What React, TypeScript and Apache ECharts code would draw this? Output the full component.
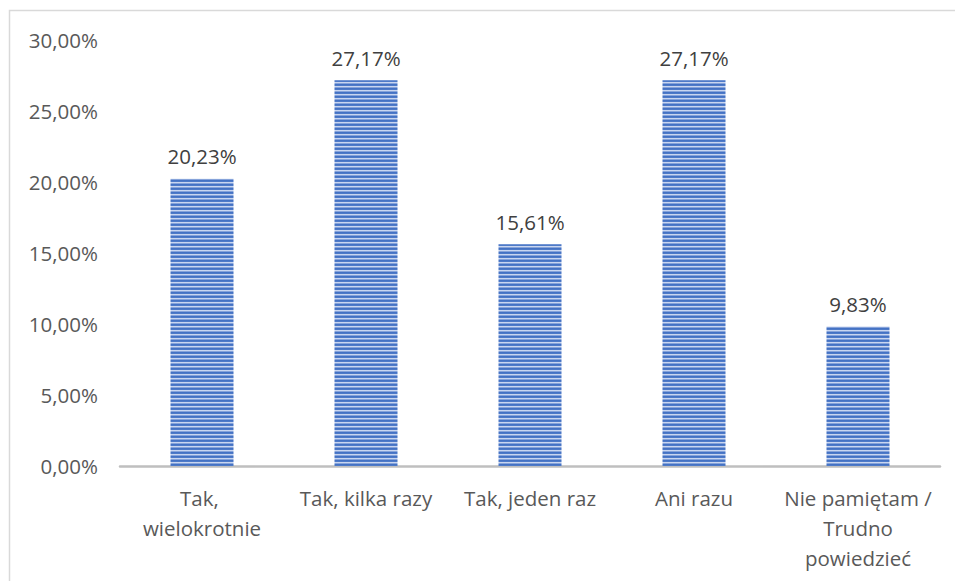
import React, { useEffect, useRef } from "react";
import * as echarts from "echarts";

const categories = [
  "Tak, wielokrotnie",
  "Tak, kilka razy",
  "Tak, jeden raz",
  "Ani razu",
  "Nie pamiętam / Trudno powiedzieć",
];
const values = [20.23, 27.17, 15.61, 27.17, 9.83];
const yMin = 0;
const yMax = 30;
const yStep = 5;

const fmt = (v: number) => v.toFixed(2).replace(".", ",") + "%";

function makeStripe(): HTMLCanvasElement {
  const c = document.createElement("canvas");
  c.width = 4;
  c.height = 4;
  const ctx = c.getContext("2d")!;
  const rows = ["#4472c4", "#4e7ac8", "#c9d6f0", "#86a3da"];
  rows.forEach((col, i) => {
    ctx.fillStyle = col;
    ctx.fillRect(0, i, 4, 1);
  });
  return c;
}

export default function App() {
  const ref = useRef<HTMLDivElement>(null);
  useEffect(() => {
    if (!ref.current) return;
    const chart = echarts.init(ref.current, undefined, { renderer: "svg" });
    const font = "'Open Sans', 'Noto Sans', sans-serif";
    chart.setOption({
      animation: false,
      textStyle: { fontFamily: font },
      graphic: [
        {
          type: "rect",
          shape: { x: 9.5, y: 10.5, width: 960, height: 600 },
          style: { fill: "none", stroke: "#d9d9d9", lineWidth: 1.5 },
          silent: true,
        },
      ],
      grid: { left: 120, right: 15, top: 40, bottom: 115, containLabel: false },
      xAxis: {
        type: "category",
        data: categories,
        axisLine: { show: true, lineStyle: { color: "#bfbfbf", width: 2.5 } },
        axisTick: { show: false },
        axisLabel: {
          color: "#595959",
          fontSize: 20.5,
          fontFamily: font,
          margin: 17,
          lineHeight: 30,
          width: 160,
          overflow: "break",
          interval: 0,
        },
      },
      yAxis: {
        type: "value",
        min: yMin,
        max: yMax,
        interval: yStep,
        splitLine: { show: false },
        axisLine: { show: false },
        axisTick: { show: false },
        axisLabel: {
          color: "#595959",
          fontSize: 20.5,
          fontFamily: font,
          margin: 22,
          formatter: (v: number) => fmt(v),
        },
      },
      series: [
        {
          type: "bar",
          data: values,
          barWidth: 63,
          itemStyle: {
            color: { image: makeStripe(), repeat: "repeat" },
          },
          label: {
            show: true,
            position: "top",
            distance: 12,
            color: "#404040",
            fontSize: 20.5,
            fontFamily: font,
            formatter: (p: any) => fmt(p.value),
          },
        },
      ],
    });
    return () => chart.dispose();
  }, []);
  return (
    <div
      ref={ref}
      style={{ position: "fixed", left: 0, top: 0, width: 955, height: 581, background: "#fff" }}
    />
  );
}
